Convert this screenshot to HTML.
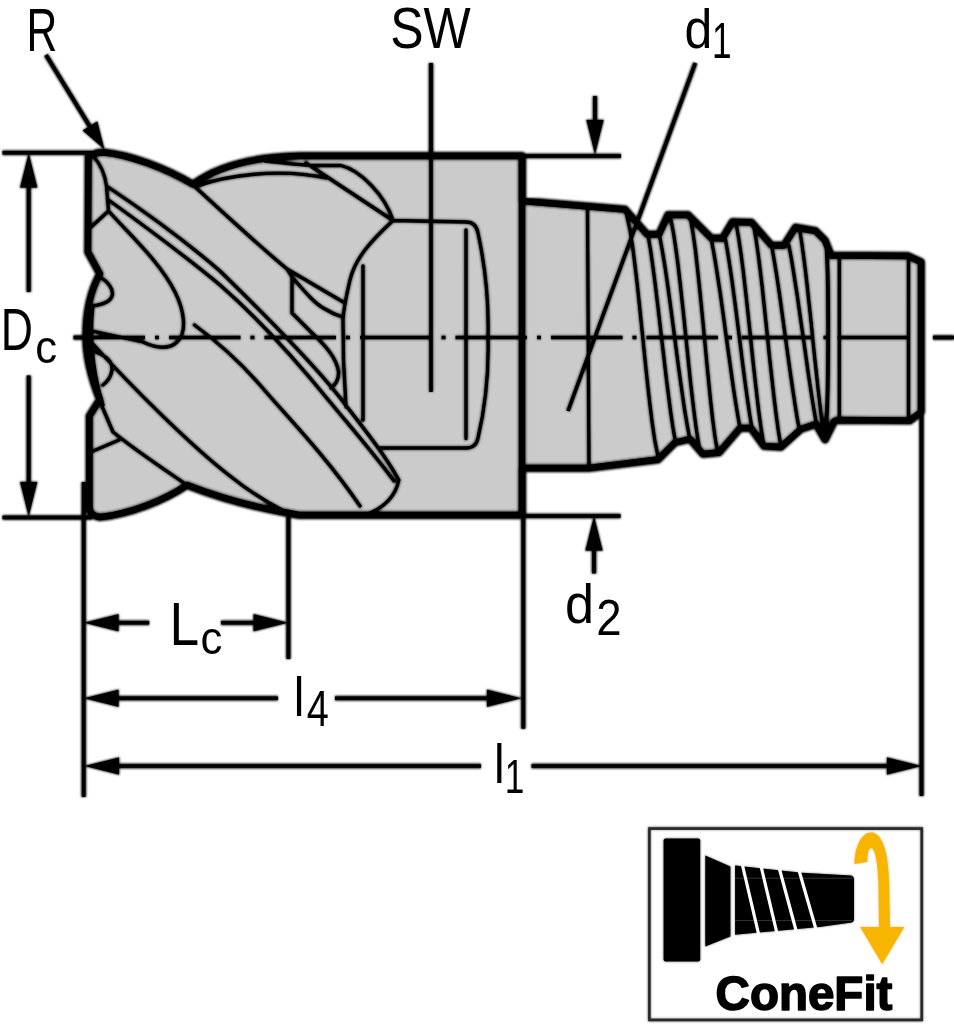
<!DOCTYPE html>
<html><head><meta charset="utf-8"><style>
html,body{margin:0;padding:0;background:#fff;}
svg{display:block;}
text{font-family:"Liberation Sans",sans-serif;}
.crisp .tn{stroke-width:3.3} .crisp .td{stroke-width:3.6} .crisp .th{stroke-width:6.4} .crisp .tm{stroke-width:3.8}
.soft .tn{stroke-width:4.6} .soft .td{stroke-width:5.0} .soft .th{stroke-width:8.4} .soft .tm{stroke-width:5.2}
.soft text{display:none}
.crisp .fo{display:none} .crisp .lr{fill:none}
.soft .ar{stroke:#000;stroke-width:0.8;stroke-linejoin:round}
</style></head><body>
<svg width="954" height="1024" viewBox="0 0 954 1024">
<defs><filter id="bl" x="-5%" y="-5%" width="110%" height="110%"><feGaussianBlur stdDeviation="1"/></filter></defs>
<rect width="954" height="1024" fill="#fff"/>
<g class="soft" filter="url(#bl)">
<path class="fo" d="M88.5,157 L97,153 L104,152.5 C130,155 165,168 193,184.5 C215,168 250,157 300,156 L522,156 L522,201 L625,209.5 L647,234.5 L659,234.5 L668,215 L688,215 L711,238 L722.5,238.5 L732.5,222 L751.5,222.5 L771.5,245.5 L784,245.5 L795.5,227.5 L815.5,231 L825,240.5 L831,255.5 L908,256 L921,262 L921,412 L910,420.5 L837,420 L834,421.5 L825,439.5 L816,424 L801,429 L781,447 L764,446 L751,428 L740,428 L719,452.5 L703,454 L690,439 L675,442.5 L658,459.5 L589,468 L522,468 L522,515 L299,515 L283,512 C250,506 215,496 187,485 C165,500 130,514 100,517 C92,516 89.5,512 89.5,506 L89.5,416 L97,404 L100,400 C92,380 86,358 86,336 C86,312 91,290 100,274 L88,252 Z" fill="#cbcbcb" stroke="none"/>
<path class="tn" d="M94,157 C101,165 105,175 106.5,186 L108.5,211 L90,228 M106.5,186 C150,215 190,245 220,271 C260,310 320,370 345.6,405 C365,430 385,455 398.8,480 M108.5,200 C150,230 190,260 220,285 C260,320 300,365 330,402 C355,432 375,455 394,481 M398.8,480 C396,495 385,508 366,514.5 M109.5,212 C130,235 160,262 175,292 C185,312 187,333 177,342 C170,349 157,349 143,342 L92,331 M92,343 C130,385 190,445 230,476 C250,492 268,503 284,511 M194.5,325 C215,340 240,362 260,385 C290,420 325,455 360,506 M193,185 C215,205 250,238 287,269 L344,302.5 M287,269 L292,277 L292,313 L310,331 C325,345 337,358 338.5,372 C339,380 335,385 331,388 M292,277 C305,292 315,304 325,309 Q333,314 342.5,317 M195,187 C225,175 280,168 326,178 M265,161 C285,163 300,165 315,165.5 L341,165.5 C360,170 385,195 393,220.5 M306,163 L393,220.5 M393,220.5 C372,240 355,258 350,280 C346,297 343.5,310 343,320 L343.5,360 L346,407 M393,220.5 L466,222 Q476,222 478,233 C486,270 489,300 488,337 C489,374 486,404 478,438 Q476,448 466,448 L380,448 M363,266 L363,420 M466,230 L466,438.5 M97,276 C108,280 114,290 112,296 C110,303 100,305 92,306 M96,352 C106,356 113,362 112,370 C111,377 107,382 103,385 M93,306 C91,320 91,345 94,365 C96,380 99,392 103,405 M101,404 L113,432 C135,450 165,470 187,485 M119,440 L91,452 M587.5,209 L589,468 M626.0,212.0 L629.9,229.6 L632.7,247.1 L634.9,264.7 L637.0,282.3 L638.9,299.9 L640.7,317.4 L642.5,335.0 L644.3,352.6 L646.1,370.1 L648.0,387.7 L650.0,405.3 L652.2,422.9 L654.8,440.4 L658.3,458.0 M648.0,235.0 L650.5,249.8 L652.6,264.6 L654.6,279.4 L656.4,294.1 L658.2,308.9 L659.9,323.7 L661.6,338.5 L663.4,353.3 L665.1,368.1 L666.9,382.9 L668.8,397.6 L670.7,412.4 L672.9,427.2 L675.5,442.0 M659.6,236.0 L662.3,250.5 L664.7,265.1 L666.9,279.6 L668.9,294.1 L670.9,308.7 L672.8,323.2 L674.7,337.8 L676.6,352.3 L678.5,366.8 L680.5,381.4 L682.6,395.9 L684.7,410.4 L687.2,425.0 L689.9,439.5 M670.1,216.0 L673.4,232.5 L675.9,249.0 L678.1,265.5 L680.0,282.0 L681.8,298.5 L683.6,315.0 L685.3,331.5 L687.0,348.0 L688.7,364.5 L690.4,381.0 L692.3,397.5 L694.3,414.0 L696.5,430.5 L699.2,447.0 M689.9,216.0 L693.0,232.9 L695.4,249.8 L697.3,266.7 L699.1,283.6 L700.8,300.5 L702.5,317.4 L704.1,334.2 L705.7,351.1 L707.3,368.0 L709.0,384.9 L710.7,401.8 L712.6,418.7 L714.8,435.6 L717.6,452.5 M711.0,238.0 L713.6,251.6 L715.9,265.1 L718.0,278.7 L720.1,292.3 L722.0,305.9 L723.9,319.4 L725.7,333.0 L727.6,346.6 L729.5,360.1 L731.4,373.7 L733.3,387.3 L735.4,400.9 L737.6,414.4 L740.0,428.0 M725.5,239.5 L727.8,253.0 L729.9,266.4 L731.9,279.9 L733.7,293.4 L735.5,306.8 L737.2,320.3 L738.9,333.8 L740.6,347.2 L742.3,360.7 L744.0,374.1 L745.8,387.6 L747.7,401.1 L749.7,414.5 L751.9,428.0 M736.0,223.0 L738.8,238.9 L741.1,254.7 L743.2,270.6 L745.0,286.4 L746.8,302.3 L748.5,318.1 L750.2,334.0 L751.8,349.9 L753.5,365.7 L755.3,381.6 L757.1,397.4 L759.0,413.3 L761.2,429.1 L763.8,445.0 M753.2,223.0 L756.0,239.0 L758.3,255.0 L760.3,271.0 L762.2,287.0 L763.9,303.0 L765.6,319.0 L767.3,335.0 L768.9,351.0 L770.6,367.0 L772.4,383.0 L774.2,399.0 L776.2,415.0 L778.4,431.0 L781.0,447.0 M771.7,246.0 L774.0,259.1 L776.2,272.3 L778.2,285.4 L780.1,298.6 L781.9,311.7 L783.7,324.9 L785.5,338.0 L787.3,351.1 L789.1,364.3 L791.0,377.4 L792.9,390.6 L794.9,403.7 L797.0,416.9 L799.4,430.0 M788.9,245.5 L791.3,258.3 L793.4,271.1 L795.4,283.9 L797.4,296.6 L799.2,309.4 L801.0,322.2 L802.9,335.0 L804.7,347.8 L806.5,360.6 L808.3,373.4 L810.2,386.1 L812.2,398.9 L814.3,411.7 L816.6,424.5 M799.4,228.0 L801.7,242.4 L803.7,256.9 L805.5,271.3 L807.2,285.7 L808.7,300.1 L810.3,314.6 L811.8,329.0 L813.2,343.4 L814.7,357.9 L816.3,372.3 L817.8,386.7 L819.5,401.1 L821.2,415.6 L823.2,430.0 M839.3,256 L839.3,420 M908.5,256.5 L908.5,420.4" fill="none" stroke="#000" stroke-linejoin="round" stroke-linecap="round"/>
<path d="M826,241 C829,270 829,400 825.5,436" fill="none" class="tm" stroke="#000"/>
<line class="td" x1="73.5" y1="337.5" x2="954" y2="337.5" stroke="#000" stroke-dasharray="71.5 10 4 10"/>
<path class="th" d="M522,156 L522,515" stroke="#000"/>
<path class="th" d="M88.5,157 L97,153 L104,152.5 C130,155 165,168 193,184.5 C215,168 250,157 300,156 L522,156 L522,201 L625,209.5 L647,234.5 L659,234.5 L668,215 L688,215 L711,238 L722.5,238.5 L732.5,222 L751.5,222.5 L771.5,245.5 L784,245.5 L795.5,227.5 L815.5,231 L825,240.5 L831,255.5 L908,256 L921,262 L921,412 L910,420.5 L837,420 L834,421.5 L825,439.5 L816,424 L801,429 L781,447 L764,446 L751,428 L740,428 L719,452.5 L703,454 L690,439 L675,442.5 L658,459.5 L589,468 L522,468 L522,515 L299,515 L283,512 C250,506 215,496 187,485 C165,500 130,514 100,517 C92,516 89.5,512 89.5,506 L89.5,416 L97,404 L100,400 C92,380 86,358 86,336 C86,312 91,290 100,274 L88,252 Z" fill="none" stroke="#000" stroke-linejoin="round"/>
<path class="td" d="M2.5,152.8 L100,152.8 M2.5,517.5 L92,517.5 M28.7,185 L28.7,292 M28.7,375.6 L28.7,485 M46,55 L92,130 M431,63 L431,392 M695.3,63 L568,411 M595,96 L595,125 M525,156 L621,156 M525,516 L620.6,516 M594,545 L594,573.5 M83.7,482 L83.7,797 M288.4,517 L288.4,659 M523.3,516 L523.3,728.7 M921.5,412 L921.5,796 M110,622.7 L149.2,622.7 M221,622.7 L262,622.7 M110,698.2 L277.9,698.2 M335,698.2 L495,698.2 M110,766 L481,766 M531.5,766 L893,766" fill="none" stroke="#000"/>
<path class="ar" d="M28.7,153.5 L37.2,187.5 L20.2,187.5 Z M28.7,516.0 L20.2,482.0 L37.2,482.0 Z M104.2,149.0 L82.8,130.5 L97.2,121.6 Z M595.0,154.0 L586.5,120.0 L603.5,120.0 Z M594.0,516.5 L602.5,550.5 L585.5,550.5 Z M84.5,622.7 L118.5,614.2 L118.5,631.2 Z M287.6,622.7 L253.6,631.2 L253.6,614.2 Z M84.5,698.2 L118.5,689.7 L118.5,706.7 Z M521.0,698.2 L487.0,706.7 L487.0,689.7 Z M85.0,766.0 L119.0,757.5 L119.0,774.5 Z M921.0,766.0 L887.0,774.5 L887.0,757.5 Z" fill="#000"/>
<g font-family="Liberation Sans, sans-serif" opacity="0.999"><text transform="translate(26.50,51.00) scale(0.7056,1)" font-size="60.47" fill="#000">R</text><text transform="translate(390.30,47.82) scale(0.8650,1)" font-size="57.77" fill="#000">SW</text><text transform="translate(684.40,47.84) scale(0.8985,1)" font-size="55.65" fill="#000">d</text><text transform="translate(712.12,57.90) scale(0.7136,1)" font-size="49.42" fill="#000">1</text><text transform="translate(0.74,350.40) scale(0.7632,1)" font-size="58.43" fill="#000">D</text><text transform="translate(35.26,362.54) scale(0.9552,1)" font-size="45.80" fill="#000">c</text><text transform="translate(169.43,644.50) scale(0.8750,1)" font-size="60.90" fill="#000">L</text><text transform="translate(200.46,653.73) scale(0.9365,1)" font-size="46.72" fill="#000">c</text><text transform="translate(293.80,716.00) scale(0.8586,1)" font-size="55.59" fill="#000">l</text><text transform="translate(306.79,725.50) scale(0.8006,1)" font-size="49.56" fill="#000">4</text><text transform="translate(494.00,783.20) scale(0.8672,1)" font-size="55.03" fill="#000">l</text><text transform="translate(504.82,793.10) scale(0.7265,1)" font-size="48.55" fill="#000">1</text><text transform="translate(565.11,622.84) scale(0.9362,1)" font-size="55.78" fill="#000">d</text><text transform="translate(596.22,635.00) scale(0.8969,1)" font-size="50.86" fill="#000">2</text></g>
<rect class="lr" x="649.4" y="828.6" width="272.3" height="191.3" fill="#fff" stroke="#2a2a2a" stroke-width="2.6"/><rect x="663.6" y="838.6" width="36.6" height="122.9" rx="2" fill="#000"/><path d="M705.3,855.4 L730.4,866.4 L730.4,936.4 L705.3,946.6 Z" fill="#000"/><path d="M735.1,865.6 L802,872.7 L851,875.5 Q854,876 854,880 L854,919 Q854,922.5 850,922.8 L819.3,926.9 L735.1,934.8 Z" fill="#000"/><path d="M735,878.2 L852,878.2 M735,920.6 L852,920.6" stroke="#333" stroke-width="1"/><path d="M742.2,864 L759.5,938 M761,866 L777.6,936 M779.2,868 L797,934 M798.9,870 L816.2,930" stroke="#fff" stroke-width="3.2"/><path d="M854.5,864 C855,845 862,832.5 871.5,832.5 C882,833 888.5,852 889,882 L890,927 L904.2,927 L882.2,964 L860.2,927 L879,927 L878.5,883 C877.5,860 875,848 871,848 C868,848 867.5,855 867.3,861.7 Z" fill="#f7b500"/><text class="cf" font-family="Liberation Sans, sans-serif" transform="translate(715.59,1010.21) scale(0.9756,1)" font-size="48.71" font-weight="bold" fill="#000" stroke="#000" stroke-width="1.6" stroke-linejoin="round">ConeFit</text>
</g>
<g class="crisp">
<path class="fo" d="M88.5,157 L97,153 L104,152.5 C130,155 165,168 193,184.5 C215,168 250,157 300,156 L522,156 L522,201 L625,209.5 L647,234.5 L659,234.5 L668,215 L688,215 L711,238 L722.5,238.5 L732.5,222 L751.5,222.5 L771.5,245.5 L784,245.5 L795.5,227.5 L815.5,231 L825,240.5 L831,255.5 L908,256 L921,262 L921,412 L910,420.5 L837,420 L834,421.5 L825,439.5 L816,424 L801,429 L781,447 L764,446 L751,428 L740,428 L719,452.5 L703,454 L690,439 L675,442.5 L658,459.5 L589,468 L522,468 L522,515 L299,515 L283,512 C250,506 215,496 187,485 C165,500 130,514 100,517 C92,516 89.5,512 89.5,506 L89.5,416 L97,404 L100,400 C92,380 86,358 86,336 C86,312 91,290 100,274 L88,252 Z" fill="#cbcbcb" stroke="none"/>
<path class="tn" d="M94,157 C101,165 105,175 106.5,186 L108.5,211 L90,228 M106.5,186 C150,215 190,245 220,271 C260,310 320,370 345.6,405 C365,430 385,455 398.8,480 M108.5,200 C150,230 190,260 220,285 C260,320 300,365 330,402 C355,432 375,455 394,481 M398.8,480 C396,495 385,508 366,514.5 M109.5,212 C130,235 160,262 175,292 C185,312 187,333 177,342 C170,349 157,349 143,342 L92,331 M92,343 C130,385 190,445 230,476 C250,492 268,503 284,511 M194.5,325 C215,340 240,362 260,385 C290,420 325,455 360,506 M193,185 C215,205 250,238 287,269 L344,302.5 M287,269 L292,277 L292,313 L310,331 C325,345 337,358 338.5,372 C339,380 335,385 331,388 M292,277 C305,292 315,304 325,309 Q333,314 342.5,317 M195,187 C225,175 280,168 326,178 M265,161 C285,163 300,165 315,165.5 L341,165.5 C360,170 385,195 393,220.5 M306,163 L393,220.5 M393,220.5 C372,240 355,258 350,280 C346,297 343.5,310 343,320 L343.5,360 L346,407 M393,220.5 L466,222 Q476,222 478,233 C486,270 489,300 488,337 C489,374 486,404 478,438 Q476,448 466,448 L380,448 M363,266 L363,420 M466,230 L466,438.5 M97,276 C108,280 114,290 112,296 C110,303 100,305 92,306 M96,352 C106,356 113,362 112,370 C111,377 107,382 103,385 M93,306 C91,320 91,345 94,365 C96,380 99,392 103,405 M101,404 L113,432 C135,450 165,470 187,485 M119,440 L91,452 M587.5,209 L589,468 M626.0,212.0 L629.9,229.6 L632.7,247.1 L634.9,264.7 L637.0,282.3 L638.9,299.9 L640.7,317.4 L642.5,335.0 L644.3,352.6 L646.1,370.1 L648.0,387.7 L650.0,405.3 L652.2,422.9 L654.8,440.4 L658.3,458.0 M648.0,235.0 L650.5,249.8 L652.6,264.6 L654.6,279.4 L656.4,294.1 L658.2,308.9 L659.9,323.7 L661.6,338.5 L663.4,353.3 L665.1,368.1 L666.9,382.9 L668.8,397.6 L670.7,412.4 L672.9,427.2 L675.5,442.0 M659.6,236.0 L662.3,250.5 L664.7,265.1 L666.9,279.6 L668.9,294.1 L670.9,308.7 L672.8,323.2 L674.7,337.8 L676.6,352.3 L678.5,366.8 L680.5,381.4 L682.6,395.9 L684.7,410.4 L687.2,425.0 L689.9,439.5 M670.1,216.0 L673.4,232.5 L675.9,249.0 L678.1,265.5 L680.0,282.0 L681.8,298.5 L683.6,315.0 L685.3,331.5 L687.0,348.0 L688.7,364.5 L690.4,381.0 L692.3,397.5 L694.3,414.0 L696.5,430.5 L699.2,447.0 M689.9,216.0 L693.0,232.9 L695.4,249.8 L697.3,266.7 L699.1,283.6 L700.8,300.5 L702.5,317.4 L704.1,334.2 L705.7,351.1 L707.3,368.0 L709.0,384.9 L710.7,401.8 L712.6,418.7 L714.8,435.6 L717.6,452.5 M711.0,238.0 L713.6,251.6 L715.9,265.1 L718.0,278.7 L720.1,292.3 L722.0,305.9 L723.9,319.4 L725.7,333.0 L727.6,346.6 L729.5,360.1 L731.4,373.7 L733.3,387.3 L735.4,400.9 L737.6,414.4 L740.0,428.0 M725.5,239.5 L727.8,253.0 L729.9,266.4 L731.9,279.9 L733.7,293.4 L735.5,306.8 L737.2,320.3 L738.9,333.8 L740.6,347.2 L742.3,360.7 L744.0,374.1 L745.8,387.6 L747.7,401.1 L749.7,414.5 L751.9,428.0 M736.0,223.0 L738.8,238.9 L741.1,254.7 L743.2,270.6 L745.0,286.4 L746.8,302.3 L748.5,318.1 L750.2,334.0 L751.8,349.9 L753.5,365.7 L755.3,381.6 L757.1,397.4 L759.0,413.3 L761.2,429.1 L763.8,445.0 M753.2,223.0 L756.0,239.0 L758.3,255.0 L760.3,271.0 L762.2,287.0 L763.9,303.0 L765.6,319.0 L767.3,335.0 L768.9,351.0 L770.6,367.0 L772.4,383.0 L774.2,399.0 L776.2,415.0 L778.4,431.0 L781.0,447.0 M771.7,246.0 L774.0,259.1 L776.2,272.3 L778.2,285.4 L780.1,298.6 L781.9,311.7 L783.7,324.9 L785.5,338.0 L787.3,351.1 L789.1,364.3 L791.0,377.4 L792.9,390.6 L794.9,403.7 L797.0,416.9 L799.4,430.0 M788.9,245.5 L791.3,258.3 L793.4,271.1 L795.4,283.9 L797.4,296.6 L799.2,309.4 L801.0,322.2 L802.9,335.0 L804.7,347.8 L806.5,360.6 L808.3,373.4 L810.2,386.1 L812.2,398.9 L814.3,411.7 L816.6,424.5 M799.4,228.0 L801.7,242.4 L803.7,256.9 L805.5,271.3 L807.2,285.7 L808.7,300.1 L810.3,314.6 L811.8,329.0 L813.2,343.4 L814.7,357.9 L816.3,372.3 L817.8,386.7 L819.5,401.1 L821.2,415.6 L823.2,430.0 M839.3,256 L839.3,420 M908.5,256.5 L908.5,420.4" fill="none" stroke="#000" stroke-linejoin="round" stroke-linecap="round"/>
<path d="M826,241 C829,270 829,400 825.5,436" fill="none" class="tm" stroke="#000"/>
<line class="td" x1="73.5" y1="337.5" x2="954" y2="337.5" stroke="#000" stroke-dasharray="71.5 10 4 10"/>
<path class="th" d="M522,156 L522,515" stroke="#000"/>
<path class="th" d="M88.5,157 L97,153 L104,152.5 C130,155 165,168 193,184.5 C215,168 250,157 300,156 L522,156 L522,201 L625,209.5 L647,234.5 L659,234.5 L668,215 L688,215 L711,238 L722.5,238.5 L732.5,222 L751.5,222.5 L771.5,245.5 L784,245.5 L795.5,227.5 L815.5,231 L825,240.5 L831,255.5 L908,256 L921,262 L921,412 L910,420.5 L837,420 L834,421.5 L825,439.5 L816,424 L801,429 L781,447 L764,446 L751,428 L740,428 L719,452.5 L703,454 L690,439 L675,442.5 L658,459.5 L589,468 L522,468 L522,515 L299,515 L283,512 C250,506 215,496 187,485 C165,500 130,514 100,517 C92,516 89.5,512 89.5,506 L89.5,416 L97,404 L100,400 C92,380 86,358 86,336 C86,312 91,290 100,274 L88,252 Z" fill="none" stroke="#000" stroke-linejoin="round"/>
<path class="td" d="M2.5,152.8 L100,152.8 M2.5,517.5 L92,517.5 M28.7,185 L28.7,292 M28.7,375.6 L28.7,485 M46,55 L92,130 M431,63 L431,392 M695.3,63 L568,411 M595,96 L595,125 M525,156 L621,156 M525,516 L620.6,516 M594,545 L594,573.5 M83.7,482 L83.7,797 M288.4,517 L288.4,659 M523.3,516 L523.3,728.7 M921.5,412 L921.5,796 M110,622.7 L149.2,622.7 M221,622.7 L262,622.7 M110,698.2 L277.9,698.2 M335,698.2 L495,698.2 M110,766 L481,766 M531.5,766 L893,766" fill="none" stroke="#000"/>
<path class="ar" d="M28.7,153.5 L37.2,187.5 L20.2,187.5 Z M28.7,516.0 L20.2,482.0 L37.2,482.0 Z M104.2,149.0 L82.8,130.5 L97.2,121.6 Z M595.0,154.0 L586.5,120.0 L603.5,120.0 Z M594.0,516.5 L602.5,550.5 L585.5,550.5 Z M84.5,622.7 L118.5,614.2 L118.5,631.2 Z M287.6,622.7 L253.6,631.2 L253.6,614.2 Z M84.5,698.2 L118.5,689.7 L118.5,706.7 Z M521.0,698.2 L487.0,706.7 L487.0,689.7 Z M85.0,766.0 L119.0,757.5 L119.0,774.5 Z M921.0,766.0 L887.0,774.5 L887.0,757.5 Z" fill="#000"/>
<g font-family="Liberation Sans, sans-serif" opacity="0.999"><text transform="translate(26.50,51.00) scale(0.7056,1)" font-size="60.47" fill="#000">R</text><text transform="translate(390.30,47.82) scale(0.8650,1)" font-size="57.77" fill="#000">SW</text><text transform="translate(684.40,47.84) scale(0.8985,1)" font-size="55.65" fill="#000">d</text><text transform="translate(712.12,57.90) scale(0.7136,1)" font-size="49.42" fill="#000">1</text><text transform="translate(0.74,350.40) scale(0.7632,1)" font-size="58.43" fill="#000">D</text><text transform="translate(35.26,362.54) scale(0.9552,1)" font-size="45.80" fill="#000">c</text><text transform="translate(169.43,644.50) scale(0.8750,1)" font-size="60.90" fill="#000">L</text><text transform="translate(200.46,653.73) scale(0.9365,1)" font-size="46.72" fill="#000">c</text><text transform="translate(293.80,716.00) scale(0.8586,1)" font-size="55.59" fill="#000">l</text><text transform="translate(306.79,725.50) scale(0.8006,1)" font-size="49.56" fill="#000">4</text><text transform="translate(494.00,783.20) scale(0.8672,1)" font-size="55.03" fill="#000">l</text><text transform="translate(504.82,793.10) scale(0.7265,1)" font-size="48.55" fill="#000">1</text><text transform="translate(565.11,622.84) scale(0.9362,1)" font-size="55.78" fill="#000">d</text><text transform="translate(596.22,635.00) scale(0.8969,1)" font-size="50.86" fill="#000">2</text></g>
<rect class="lr" x="649.4" y="828.6" width="272.3" height="191.3" fill="#fff" stroke="#2a2a2a" stroke-width="2.6"/><rect x="663.6" y="838.6" width="36.6" height="122.9" rx="2" fill="#000"/><path d="M705.3,855.4 L730.4,866.4 L730.4,936.4 L705.3,946.6 Z" fill="#000"/><path d="M735.1,865.6 L802,872.7 L851,875.5 Q854,876 854,880 L854,919 Q854,922.5 850,922.8 L819.3,926.9 L735.1,934.8 Z" fill="#000"/><path d="M735,878.2 L852,878.2 M735,920.6 L852,920.6" stroke="#333" stroke-width="1"/><path d="M742.2,864 L759.5,938 M761,866 L777.6,936 M779.2,868 L797,934 M798.9,870 L816.2,930" stroke="#fff" stroke-width="3.2"/><path d="M854.5,864 C855,845 862,832.5 871.5,832.5 C882,833 888.5,852 889,882 L890,927 L904.2,927 L882.2,964 L860.2,927 L879,927 L878.5,883 C877.5,860 875,848 871,848 C868,848 867.5,855 867.3,861.7 Z" fill="#f7b500"/><text class="cf" font-family="Liberation Sans, sans-serif" transform="translate(715.59,1010.21) scale(0.9756,1)" font-size="48.71" font-weight="bold" fill="#000" stroke="#000" stroke-width="1.6" stroke-linejoin="round">ConeFit</text>
</g>
</svg>
</body></html>
